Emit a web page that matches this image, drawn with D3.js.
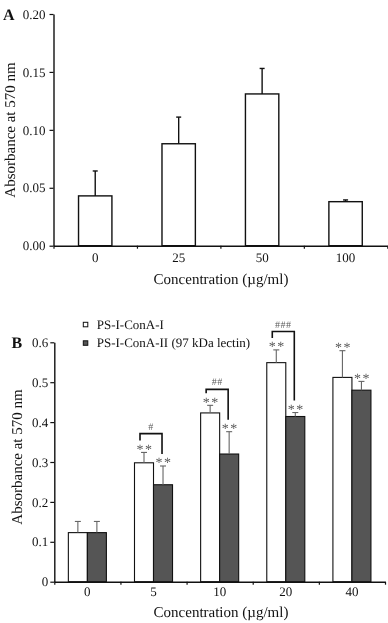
<!DOCTYPE html>
<html>
<head>
<meta charset="utf-8">
<script src="https://cdn.jsdelivr.net/npm/d3@7"></script>
<style>
  html, body { margin: 0; padding: 0; background: #fff; }
  svg { display: block; font-family: "Liberation Serif", "Times New Roman", serif; will-change: transform; }
  svg text { text-rendering: geometricPrecision; }
</style>
</head>
<body>
<svg id="chart" width="388" height="623"></svg>
<script>
// ---------- Panel A data ----------
const catsA = ["0", "25", "50", "100"];
const valsA = [0.043, 0.088, 0.131, 0.038];
const errA  = [0.0215, 0.023, 0.022, 0.0015];
const yTicksA = [0, 0.05, 0.10, 0.15, 0.20];

// ---------- Panel B data ----------
const catsB = ["0", "5", "10", "20", "40"];
const seriesNames = ["PS-I-ConA-I", "PS-I-ConA-II (97 kDa lectin)"];
const valsB1 = [0.123, 0.298, 0.423, 0.549, 0.512];
const errB1  = [0.028, 0.026, 0.019, 0.032, 0.067];
const valsB2 = [0.123, 0.243, 0.320, 0.414, 0.480];
const errB2  = [0.028, 0.047, 0.056, 0.010, 0.022];
const starsB1 = ["", "**", "**", "**", "**"];
const starsB2 = ["", "**", "**", "**", "**"];
const hashB   = ["", "#", "##", "###", ""];
const bracketTopB = [null, 0.371, 0.482, 0.627, null];
const yTicksB = [0, 0.1, 0.2, 0.3, 0.4, 0.5, 0.6];

const svg = d3.select("#chart");

// ================= Panel A =================
const A = { left: 53.5, right: 387.3, top: 14, bottom: 245.7 };
const yA = d3.scaleLinear().domain([0, 0.2]).range([A.bottom, A.top]);
const xA = d3.scaleBand().domain(catsA).range([A.left, A.right]).paddingInner(0.6).paddingOuter(0.3);
const xAb = d3.scaleLinear().domain([0, catsA.length]).range([A.left, A.right]);

const gA = svg.append("g");

gA.selectAll("rect.bar").data(catsA).enter().append("rect")
  .attr("x", d => xA(d))
  .attr("y", (d, i) => yA(valsA[i]))
  .attr("width", xA.bandwidth())
  .attr("height", (d, i) => yA(0) - yA(valsA[i]))
  .attr("fill", "#fff").attr("stroke", "#111").attr("stroke-width", 1.4);

catsA.forEach((c, i) => {
  const cx = xA(c) + xA.bandwidth() / 2;
  const yt = yA(valsA[i] + errA[i]);
  gA.append("line").attr("x1", cx).attr("x2", cx).attr("y1", yA(valsA[i])).attr("y2", yt)
    .attr("stroke", "#111").attr("stroke-width", 1.4);
  gA.append("line").attr("x1", cx - 2.5).attr("x2", cx + 2.5).attr("y1", yt).attr("y2", yt)
    .attr("stroke", "#111").attr("stroke-width", 1.4);
});

const yAxA = gA.append("g").attr("transform", `translate(${A.left},0)`)
  .call(d3.axisLeft(yA).tickValues(yTicksA).tickFormat(d3.format(".2f")).tickSize(4).tickSizeOuter(0).tickPadding(4));
const xAxA = gA.append("g").attr("transform", `translate(0,${A.bottom})`)
  .call(d3.axisBottom(xAb).tickValues(d3.range(catsA.length + 1)).tickFormat("").tickSize(3).tickSizeOuter(0));
const xLabA = gA.append("g").attr("transform", `translate(0,${A.bottom})`)
  .call(d3.axisBottom(xA).tickSize(0));
xLabA.select(".domain").remove();
xLabA.selectAll("text").attr("y", 16).attr("dy", null);

[yAxA, xAxA, xLabA].forEach(g => {
  g.selectAll(".domain").attr("stroke", "#111").attr("stroke-width", 1.4);
  g.selectAll(".tick line").attr("stroke", "#111").attr("stroke-width", 1.2);
  g.selectAll("text").attr("font-family", "Liberation Serif").attr("font-size", 13).attr("fill", "#111");
});

gA.append("text").attr("x", 221).attr("y", 284).attr("text-anchor", "middle")
  .attr("font-size", 15).attr("fill", "#111").text("Concentration (µg/ml)");
gA.append("text").attr("transform", `translate(15,130) rotate(-90)`).attr("text-anchor", "middle")
  .attr("font-size", 15).attr("fill", "#111").text("Absorbance at 570 nm");
gA.append("text").attr("x", 3).attr("y", 19.5).attr("font-size", 16).attr("font-weight", "bold")
  .attr("fill", "#111").text("A");

// ================= Panel B =================
const B = { left: 54.3, right: 385, top: 342.3, bottom: 581.7 };
const yB = d3.scaleLinear().domain([0, 0.6]).range([B.bottom, B.top]);
const xB = d3.scaleBand().domain(catsB).range([B.left, B.right]).paddingInner(0.425).paddingOuter(0.2125);
const xBs = d3.scaleBand().domain([0, 1]).range([0, xB.bandwidth()]);
const xBb = d3.scaleLinear().domain([0, catsB.length]).range([B.left, B.right]);

const gB = svg.append("g");
const seriesVals = [valsB1, valsB2];
const seriesErr = [errB1, errB2];
const seriesStars = [starsB1, starsB2];
const seriesFill = ["#ffffff", "#555555"];

[0, 1].forEach(s => {
  gB.selectAll(`rect.s${s}`).data(catsB).enter().append("rect")
    .attr("x", d => xB(d) + xBs(s))
    .attr("y", (d, i) => yB(seriesVals[s][i]))
    .attr("width", xBs.bandwidth())
    .attr("height", (d, i) => yB(0) - yB(seriesVals[s][i]))
    .attr("fill", seriesFill[s]).attr("stroke", "#111").attr("stroke-width", 1.1);
});

const centerB = (c, s) => xB(c) + xBs(s) + xBs.bandwidth() / 2;
[0, 1].forEach(s => {
  catsB.forEach((c, i) => {
    const cx = centerB(c, s);
    const yt = yB(seriesVals[s][i] + seriesErr[s][i]);
    gB.append("line").attr("x1", cx).attr("x2", cx).attr("y1", yB(seriesVals[s][i])).attr("y2", yt)
      .attr("stroke", "#666").attr("stroke-width", 1.1);
    gB.append("line").attr("x1", cx - 3).attr("x2", cx + 3).attr("y1", yt).attr("y2", yt)
      .attr("stroke", "#666").attr("stroke-width", 1.1);
    if (seriesStars[s][i]) {
      gB.append("text").attr("x", cx + 1).attr("y", yt + 1.5).attr("text-anchor", "middle")
        .attr("font-size", 14).attr("letter-spacing", 1.5).attr("fill", "#5a5a5a").text(seriesStars[s][i]);
    }
  });
});

catsB.forEach((c, i) => {
  if (bracketTopB[i] == null) return;
  const xl = centerB(c, 0) - 4;
  const xr = centerB(c, 1) - 1;
  const yt = yB(bracketTopB[i]);
  const ylb = yB(valsB1[i] + errB1[i]) - 12;
  const yrb = yB(valsB2[i] + errB2[i]) - 12;
  gB.append("path").attr("d", `M${xl},${ylb}V${yt}H${xr}V${yrb}`)
    .attr("fill", "none").attr("stroke", "#111").attr("stroke-width", 1.6);
  gB.append("text").attr("x", (xl + xr) / 2).attr("y", yt - 4).attr("text-anchor", "middle")
    .attr("font-size", 10).attr("letter-spacing", 0.5).attr("fill", "#5a5a5a").text(hashB[i]);
});

const yAxB = gB.append("g").attr("transform", `translate(${B.left},0)`)
  .call(d3.axisLeft(yB).tickValues(yTicksB).tickFormat(d => d === 0 ? "0" : d3.format(".1f")(d))
    .tickSize(4).tickSizeOuter(0).tickPadding(2));
const xAxB = gB.append("g").attr("transform", `translate(0,${B.bottom})`)
  .call(d3.axisBottom(xBb).tickValues(d3.range(catsB.length + 1)).tickFormat("").tickSize(3).tickSizeOuter(0));
const xLabB = gB.append("g").attr("transform", `translate(0,${B.bottom})`)
  .call(d3.axisBottom(xB).tickSize(0));
xLabB.select(".domain").remove();
xLabB.selectAll("text").attr("y", 14.5).attr("dy", null);

[yAxB, xAxB, xLabB].forEach(g => {
  g.selectAll(".domain").attr("stroke", "#111").attr("stroke-width", 1.4);
  g.selectAll(".tick line").attr("stroke", "#111").attr("stroke-width", 1.2);
  g.selectAll("text").attr("font-family", "Liberation Serif").attr("font-size", 13).attr("fill", "#111");
});

gB.append("text").attr("x", 221).attr("y", 617).attr("text-anchor", "middle")
  .attr("font-size", 15).attr("fill", "#111").text("Concentration (µg/ml)");
gB.append("text").attr("transform", `translate(21.5,457) rotate(-90)`).attr("text-anchor", "middle")
  .attr("font-size", 15).attr("fill", "#111").text("Absorbance at 570 nm");
gB.append("text").attr("x", 11.5).attr("y", 348).attr("font-size", 16).attr("font-weight", "bold")
  .attr("fill", "#111").text("B");

const legY = [324.5, 343];
seriesNames.forEach((n, s) => {
  gB.append("rect").attr("x", 83.3).attr("y", legY[s] - 2.2).attr("width", 4.5).attr("height", 4.5)
    .attr("fill", s === 0 ? "#fff" : "#555").attr("stroke", "#111").attr("stroke-width", 1);
  gB.append("text").attr("x", 96.7).attr("y", legY[s] + 4).attr("font-size", 13).attr("fill", "#111").text(n);
});
</script>
</body>
</html>
